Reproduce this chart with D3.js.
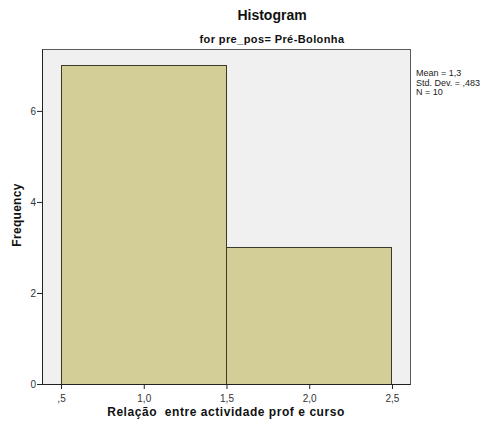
<!DOCTYPE html>
<html><head><meta charset="utf-8">
<script src="https://cdn.jsdelivr.net/npm/d3@7"></script>
<style>body{margin:0;background:#fff}svg{display:block}text{font-family:"Liberation Sans",Arial,sans-serif}</style>
</head><body>
<script>
const binStarts = [0.5, 1.5];
const binEnds = [1.5, 2.5];
const frequencies = [7, 3];
const xTicks = [0.5, 1.0, 1.5, 2.0, 2.5];
const xTickLabels = [",5", "1,0", "1,5", "2,0", "2,5"];
const yTicks = [0, 2, 4, 6];
const statsLines = ["Mean = 1,3", "Std. Dev. = ,483", "N = 10"];

const W = 486, H = 428;
const L = 42, R = 410, T = 49, B = 384;
const svg = d3.select("body").append("svg").attr("width", W).attr("height", H);

const x = d3.scaleLinear().domain([0.385, 2.609]).range([L, R]);
const y = d3.scaleLinear().domain([0, 7.36]).range([B, T]);

svg.append("rect").attr("x", L).attr("y", T).attr("width", R - L).attr("height", B - T)
  .attr("fill", "#f0f0f0").attr("stroke", "#5a5a5a").attr("stroke-width", 1).attr("shape-rendering", "crispEdges");

svg.selectAll(".bar").data(frequencies).enter().append("rect")
  .attr("x", (d, i) => x(binStarts[i]))
  .attr("width", (d, i) => x(binEnds[i]) - x(binStarts[i]))
  .attr("y", d => y(d))
  .attr("height", d => y(0) - y(d))
  .attr("fill", "#d3ce98").attr("stroke", "#3a3a2a").attr("stroke-width", 1)
  .attr("shape-rendering", "crispEdges");

const xAxis = svg.append("g").attr("transform", `translate(0,${B})`)
  .call(d3.axisBottom(x).tickValues(xTicks).tickSize(5).tickSizeOuter(0).tickFormat((d, i) => xTickLabels[i]));
xAxis.select(".domain").attr("stroke", "#222");
xAxis.selectAll(".tick line").attr("stroke", "#222");
xAxis.selectAll("text").attr("font-size", 10).attr("fill", "#333").attr("dy", "0.95em")
  .style("font-family", "'Liberation Sans', Arial, sans-serif");

const yAxis = svg.append("g").attr("transform", `translate(${L},0)`)
  .call(d3.axisLeft(y).tickValues(yTicks).tickSize(5).tickSizeOuter(0).tickFormat(d3.format("d")));
yAxis.select(".domain").attr("stroke", "#222");
yAxis.selectAll(".tick line").attr("stroke", "#222");
yAxis.selectAll("text").attr("font-size", 10).attr("fill", "#333").attr("x", -6)
  .style("font-family", "'Liberation Sans', Arial, sans-serif");

svg.append("text").attr("x", 272).attr("y", 20).attr("text-anchor", "middle")
  .attr("font-size", 14).attr("font-weight", "bold").attr("fill", "#111").text("Histogram");
svg.append("text").attr("x", 272).attr("y", 43).attr("text-anchor", "middle")
  .attr("font-size", 11).attr("font-weight", "bold").attr("fill", "#111")
  .attr("letter-spacing", 0.4).text("for pre_pos= Pré-Bolonha");

svg.append("text").attr("x", 226).attr("y", 416).attr("text-anchor", "middle")
  .attr("font-size", 12).attr("font-weight", "bold").attr("fill", "#111")
  .attr("letter-spacing", 0.55)
  .attr("xml:space", "preserve").style("white-space", "pre")
  .text("Relação  entre actividade prof e curso");

svg.append("text").attr("transform", `translate(21,215) rotate(-90)`).attr("text-anchor", "middle")
  .attr("font-size", 12).attr("font-weight", "bold").attr("fill", "#111")
  .attr("letter-spacing", 0.3).text("Frequency");

svg.append("g").selectAll("text").data(statsLines).enter().append("text")
  .attr("x", 416).attr("y", (d, i) => 76 + i * 9.5)
  .attr("font-size", 9).attr("fill", "#222").text(d => d);
</script>
</body></html>
